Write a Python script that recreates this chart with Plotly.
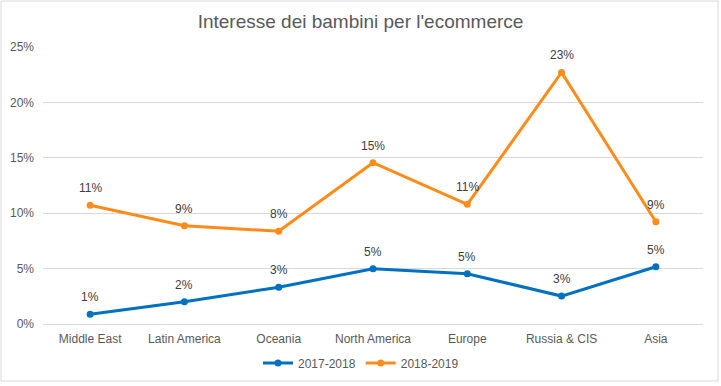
import plotly.graph_objects as go

categories = ["Middle East", "Latin America", "Oceania", "North America", "Europe", "Russia & CIS", "Asia"]
series_2017 = [0.0087, 0.0201, 0.0331, 0.0499, 0.0454, 0.0252, 0.0517]
series_2018 = [0.1071, 0.0887, 0.0837, 0.1456, 0.1080, 0.2270, 0.0923]
series_names = ["2017-2018", "2018-2019"]
tick_vals = [0, 0.05, 0.10, 0.15, 0.20, 0.25]
tick_text = ["0%", "5%", "10%", "15%", "20%", "25%"]

FONT = "Liberation Sans, Arial, sans-serif"
colors = ["#0070C0", "#FF8C1A"]

fig = go.Figure()
annotations = []
for name, vals, col in zip(series_names, [series_2017, series_2018], colors):
    fig.add_trace(go.Scatter(
        x=categories, y=vals, name=name, mode="lines+markers",
        line=dict(color=col, width=3), marker=dict(size=7, color=col),
        cliponaxis=False,
    ))
    for c, v in zip(categories, vals):
        annotations.append(dict(x=c, y=v, xref="x", yref="y", text=f"{round(v*100)}%",
                                showarrow=False, yshift=17,
                                font=dict(size=12, color="#404040", family=FONT)))

fig.update_layout(
    width=721, height=386,
    margin=dict(l=43, r=18, t=47, b=62, autoexpand=False),
    paper_bgcolor="white", plot_bgcolor="white",
    font=dict(family=FONT, size=12, color="#595959"),
    title=dict(text="Interesse dei bambini per l'ecommerce", x=0.5, xanchor="center",
               y=1 - 21.5/386, yanchor="middle", font=dict(size=19, color="#595959", family=FONT)),
    showlegend=True,
    legend=dict(orientation="h", x=0.5 - 12/660, xanchor="center", yref="container", y=1 - 363/386,
                yanchor="middle", font=dict(size=12, color="#595959"), traceorder="normal"),
    xaxis=dict(type="category", showgrid=False, showline=False, ticks="",
               tickfont=dict(size=12, color="#595959"), range=[-0.5, 6.5],
               ticklabelstandoff=6),
    yaxis=dict(range=[0, 0.25], tickvals=tick_vals, ticktext=tick_text,
               showgrid=True, gridcolor="#D9D9D9", gridwidth=1, zeroline=True,
               zerolinecolor="#D9D9D9", zerolinewidth=1, showline=False, ticks="",
               tickfont=dict(size=12, color="#595959"), ticklabelstandoff=8),
    annotations=annotations,
    shapes=[dict(type="rect", xref="paper", yref="paper", x0=-42/660, x1=1+15/660,
                 y0=-57/277, y1=1+46/277, line=dict(color="#D9D9D9", width=1))],
)

fig.write_html("out.html", config={"displayModeBar": False},
               post_script="document.body.style.margin='0';document.body.style.overflow='hidden';")
